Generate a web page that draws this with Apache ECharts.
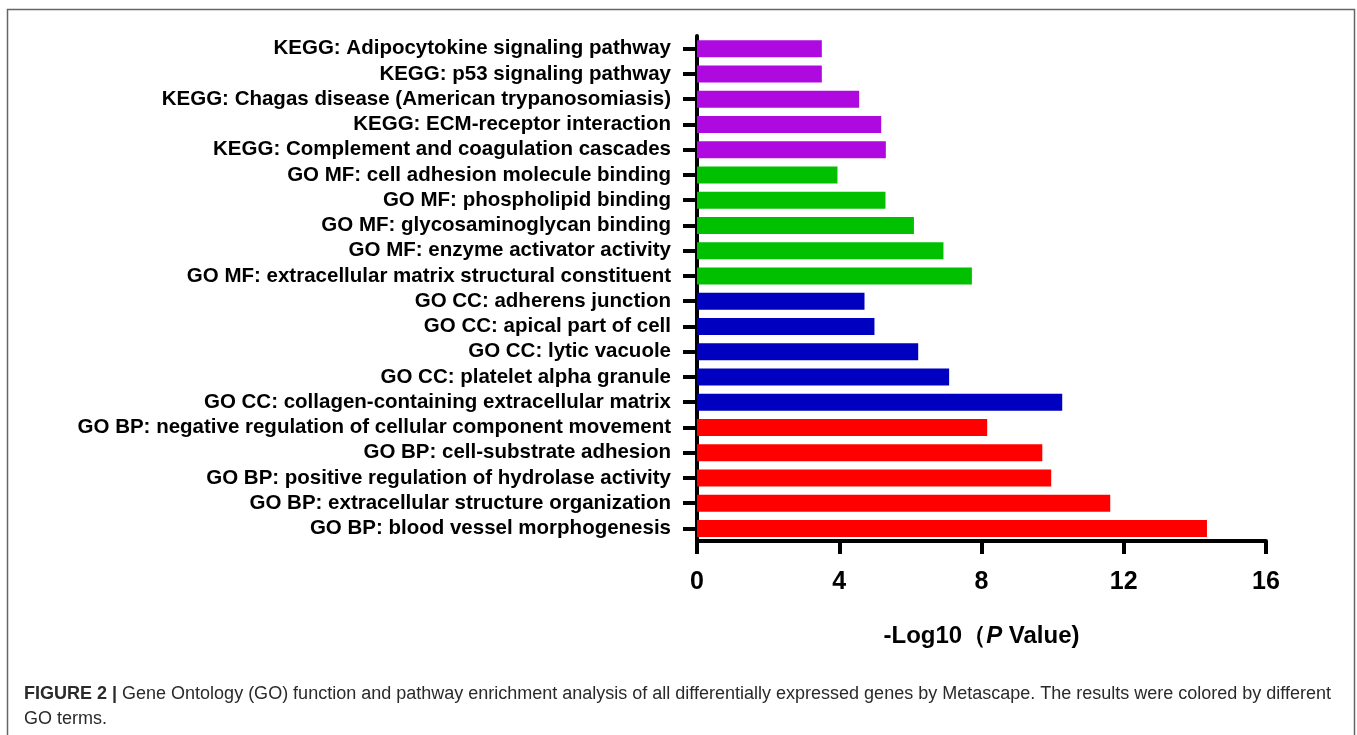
<!DOCTYPE html>
<html>
<head>
<meta charset="utf-8">
<script src="https://cdn.jsdelivr.net/npm/echarts@6/dist/echarts.min.js"></script>
<style>
html,body{margin:0;padding:0;background:#fff;}
#chart{width:1357px;height:735px;}
</style>
</head>
<body>
<div id="chart"></div>
<script>
// Categories listed top to bottom
var categories = [
  "KEGG: Adipocytokine signaling pathway",
  "KEGG: p53 signaling pathway",
  "KEGG: Chagas disease (American trypanosomiasis)",
  "KEGG: ECM-receptor interaction",
  "KEGG: Complement and coagulation cascades",
  "GO MF: cell adhesion molecule binding",
  "GO MF: phospholipid binding",
  "GO MF: glycosaminoglycan binding",
  "GO MF: enzyme activator activity",
  "GO MF: extracellular matrix structural constituent",
  "GO CC: adherens junction",
  "GO CC: apical part of cell",
  "GO CC: lytic vacuole",
  "GO CC: platelet alpha granule",
  "GO CC: collagen-containing extracellular matrix",
  "GO BP: negative regulation of cellular component movement",
  "GO BP: cell-substrate adhesion",
  "GO BP: positive regulation of hydrolase activity",
  "GO BP: extracellular structure organization",
  "GO BP: blood vessel morphogenesis"
];
var values = [3.51, 3.51, 4.56, 5.18, 5.31, 3.95, 5.30, 6.10, 6.93, 7.73, 4.71, 4.99, 6.22, 7.09, 10.27, 8.16, 9.71, 9.96, 11.62, 14.34];
var groups = ["KEGG","KEGG","KEGG","KEGG","KEGG","MF","MF","MF","MF","MF","CC","CC","CC","CC","CC","BP","BP","BP","BP","BP"];
var groupColors = {KEGG: "#AE0AE0", MF: "#00C000", CC: "#0000C0", BP: "#FF0000"};
var xTicks = {min: 0, max: 16, interval: 4};
var xAxisName = "-Log10（{i|P} Value)";
var captionBold = "FIGURE 2 | ";
var captionLine1 = "Gene Ontology (GO) function and pathway enrichment analysis of all differentially expressed genes by Metascape. The results were colored by different";
var captionLine2 = "GO terms.";

var chart = echarts.init(document.getElementById('chart'), null, {renderer: 'canvas'});
var barData = values.map(function (v, i) {
  return {value: v, itemStyle: {color: groupColors[groups[i]]}};
});
var FONT = 'Liberation Sans, Arial, sans-serif';

var option = {
  backgroundColor: '#ffffff',
  animation: false,
  grid: {left: 697, right: 91, top: 36, bottom: 194, containLabel: false},
  xAxis: {
    type: 'value',
    min: xTicks.min, max: xTicks.max, interval: xTicks.interval,
    name: xAxisName,
    nameLocation: 'middle',
    nameGap: 83,
    nameTextStyle: {
      fontFamily: FONT, fontSize: 24, fontWeight: 'bold', color: '#000',
      rich: {
        i: {fontFamily: FONT, fontSize: 24, fontWeight: 'bold', fontStyle: 'italic', color: '#000'}
      }
    },
    axisLine: {show: true, lineStyle: {color: '#000', width: 4}},
    axisTick: {show: true, length: 13, lineStyle: {color: '#000', width: 4}},
    axisLabel: {
      margin: 29,
      fontFamily: FONT, fontSize: 25, fontWeight: 'bold', color: '#000'
    },
    splitLine: {show: false}
  },
  yAxis: {
    type: 'category',
    data: categories,
    inverse: true,
    axisLine: {show: true, lineStyle: {color: '#000', width: 4}},
    axisTick: {show: true, alignWithLabel: true, length: 14, lineStyle: {color: '#000', width: 4}},
    axisLabel: {
      margin: 26,
      fontFamily: FONT, fontSize: 20.5, fontWeight: 'bold', color: '#000',
      interval: 0
    }
  },
  series: [{
    type: 'bar',
    data: barData,
    barWidth: 17
  }],
  graphic: [
    {
      type: 'rect', silent: true,
      shape: {x: 7.5, y: 9.5, width: 1347, height: 760},
      style: {fill: 'none', stroke: '#666', lineWidth: 1.5},
      z: -1
    },
    {
      type: 'text', left: 24, top: 685,
      style: {
        text: '{b|' + captionBold + '}{n|' + captionLine1 + '}',
        rich: {
          b: {fontFamily: FONT, fontSize: 18, fontWeight: 'bold', fill: '#2a2a2a'},
          n: {fontFamily: FONT, fontSize: 18, fill: '#2a2a2a'}
        }
      }
    },
    {
      type: 'text', left: 24, top: 710,
      style: {
        text: captionLine2,
        fontFamily: FONT, fontSize: 18, fill: '#2a2a2a'
      }
    }
  ]
};
chart.setOption(option);
</script>
</body>
</html>
